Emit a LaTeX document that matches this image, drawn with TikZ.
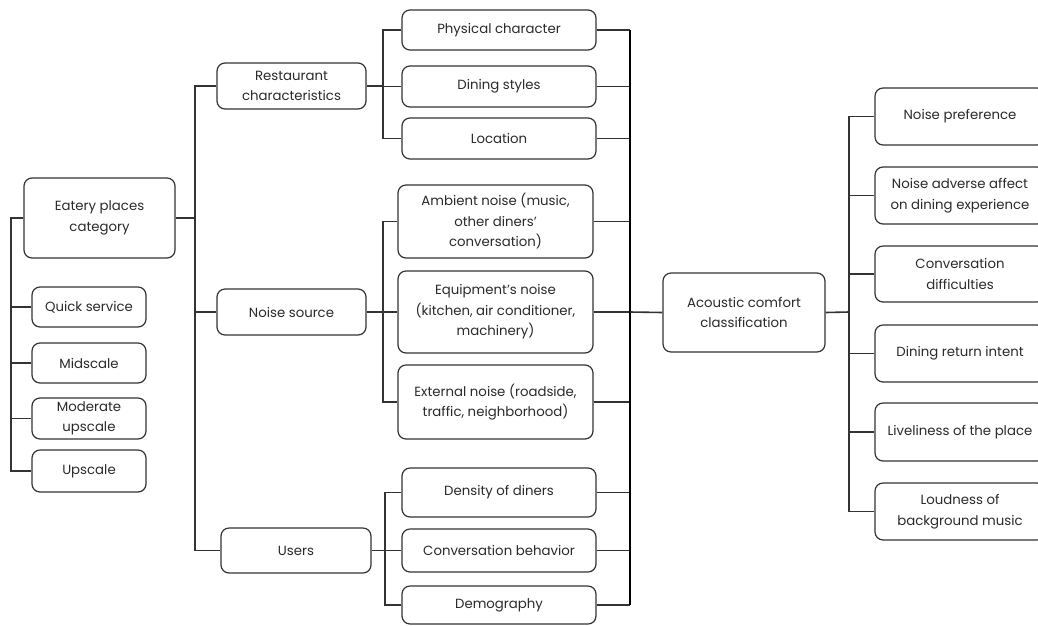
\documentclass[tikz,border=0pt]{standalone}
\usepackage{fontspec}
\setmainfont{Poppins}
\usetikzlibrary{calc}
\definecolor{ln}{HTML}{333333}
\definecolor{tx}{HTML}{2A2A2A}
\begin{document}
\begin{tikzpicture}[x=1pt,y=-1pt,
  bx/.style={draw=ln,line width=1.2pt,rounded corners=8pt,align=center,inner sep=0pt,
     text=tx,font=\fontsize{13.3}{20.5}\selectfont},
  cn/.style={draw=ln,line width=1.2pt},
  tk/.style={draw=black,line width=2pt}]
\clip (0,0) rectangle (1038,625);
\fill[white] (0,0) rectangle (1038,625);
% left column
\node[bx,minimum width=151,minimum height=80] (eat) at (99.5,218) {Eatery places\\category};
\node[bx,minimum width=114,minimum height=40] (qs) at (89,307) {Quick service};
\node[bx,minimum width=114,minimum height=40] (mid) at (89,363) {Midscale};
\node[bx,minimum width=114,minimum height=41] (mod) at (89,418.5) {Moderate\\upscale};
\node[bx,minimum width=114,minimum height=42] (up) at (89,471) {Upscale};
% second column
\node[bx,minimum width=149,minimum height=46] (rc) at (291.5,86) {Restaurant\\characteristics};
\node[bx,minimum width=149,minimum height=46] (ns) at (291.5,312) {Noise source};
\node[bx,minimum width=150,minimum height=45] (us) at (296,550.5) {Users};
% third column
\node[bx,minimum width=194,minimum height=40] (pc) at (499,30) {Physical character};
\node[bx,minimum width=194,minimum height=41] (ds) at (499,86.5) {Dining styles};
\node[bx,minimum width=194,minimum height=41] (loc) at (499,138.5) {Location};
\node[bx,minimum width=195,minimum height=73] (amb) at (495.5,221.5) {Ambient noise (music,\\other diners'\\conversation)};
\node[bx,minimum width=195,minimum height=82] (eq) at (495.5,312) {Equipment's noise\\(kitchen, air conditioner,\\machinery)};
\node[bx,minimum width=195,minimum height=74] (ext) at (495.5,402) {External noise (roadside,\\traffic, neighborhood)};
\node[bx,minimum width=194,minimum height=49] (den) at (499,492.5) {Density of diners};
\node[bx,minimum width=194,minimum height=43] (cb) at (499,550.5) {Conversation behavior};
\node[bx,minimum width=194,minimum height=38] (dem) at (499,605) {Demography};
% acoustic
\node[bx,minimum width=162,minimum height=79] (acc) at (744,312.5) {Acoustic comfort\\classification};
% right column
\node[bx,minimum width=170,minimum height=57] (np) at (960,116.5) {Noise preference};
\node[bx,minimum width=170,minimum height=57] (na) at (960,195.5) {Noise adverse affect\\on dining experience};
\node[bx,minimum width=170,minimum height=56] (cd) at (960,274) {Conversation\\difficulties};
\node[bx,minimum width=170,minimum height=57] (dr) at (960,353.5) {Dining return intent};
\node[bx,minimum width=170,minimum height=58] (lv) at (960,432) {Liveliness of the place};
\node[bx,minimum width=170,minimum height=57] (ld) at (960,511.5) {Loudness of\\background music};
% junction coordinates
\coordinate (l1) at (11,218);
\coordinate (b1) at (195,218);
\coordinate (b2) at (383,86);
\coordinate (b3) at (383,312);
\coordinate (b4) at (385,550.5);
\coordinate (t) at (630,312);
\coordinate (r1) at (849,312);
% left branch
\draw[cn] (eat.west) -- (l1) |- (up.west);
\draw[cn] (l1) |- (qs.west);
\draw[cn] (l1) |- (mid.west);
\draw[cn] (l1) |- (mod.west);
% eatery to second column
\draw[cn] (eat.east) -- (b1);
\draw[cn] (b1) |- (rc.west);
\draw[cn] (b1) |- (ns.west);
\draw[cn] (b1) |- (us.west);
% second to third
\draw[cn] (rc.east) -- (b2);
\draw[cn] (b2) |- (pc.west);
\draw[cn] (b2) |- (ds.west);
\draw[cn] (b2) |- (loc.west);
\draw[cn] (ns.east) -- (b3);
\draw[cn] (b3) |- (amb.west);
\draw[cn] (b3) |- (eq.west);
\draw[cn] (b3) |- (ext.west);
\draw[cn] (us.east) -- (b4);
\draw[cn] (b4) |- (den.west);
\draw[cn] (b4) |- (cb.west);
\draw[cn] (b4) |- (dem.west);
% third to trunk
\foreach \n in {pc,ds,loc,amb,eq,ext,den,cb,dem}{\draw[cn] (\n.east) -- (\n.east -| t);}
\draw[tk] (pc.east -| t) -- (dem.east -| t);
\draw[cn,line width=1.6pt] (t) -- (acc.west);
% acoustic to right
\draw[cn,line width=1.6pt] (acc.east) -- (r1);
\draw[cn] (r1) |- (np.west);
\draw[cn] (r1) |- (ld.west);
\foreach \n in {na,cd,dr,lv}{\draw[cn] (\n.west -| r1) -- (\n.west);}
\end{tikzpicture}
\end{document}
